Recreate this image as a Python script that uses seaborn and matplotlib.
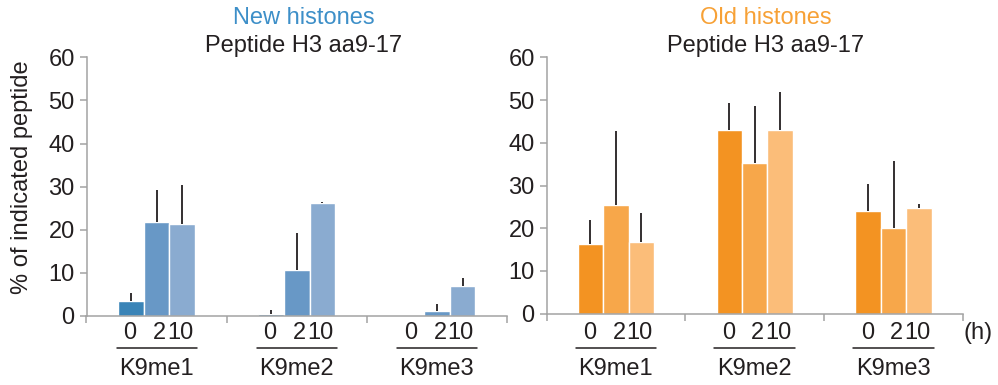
import numpy as np
import pandas as pd
import matplotlib
matplotlib.use("Agg")
import matplotlib.pyplot as plt
import matplotlib.transforms as mtransforms
from matplotlib.lines import Line2D
import seaborn as sns

# --- data -------------------------------------------------------------
marks = ["K9me1", "K9me2", "K9me3"]
times = ["0", "2", "10"]

new_0h = [3.5, 0.4, 0.0]
new_0h_sd = [1.9, 0.9, np.nan]
new_2h = [21.7, 10.6, 1.1]
new_2h_sd = [7.5, 8.6, 1.6]
new_10h = [21.4, 26.1, 6.9]
new_10h_sd = [8.9, 0.4, 1.8]

old_0h = [16.3, 43.0, 24.1]
old_0h_sd = [5.6, 6.2, 6.3]
old_2h = [25.5, 35.3, 20.1]
old_2h_sd = [17.3, 13.3, 15.6]
old_10h = [16.7, 43.0, 24.8]
old_10h_sd = [6.9, 8.9, 0.8]

new_colors = ["#3a84b7", "#6898c6", "#8aabd0"]
old_colors = ["#f39322", "#f7a74a", "#fbbd79"]

TEXT = "#231f20"
GREY = "#a3a3a3"
FS = 17


def long_table(series, sds):
    rows = []
    for t, vals, errs in zip(times, series, sds):
        for m, v, e in zip(marks, vals, errs):
            rows.append({"mark": m, "time": t, "value": v, "sd": e})
    return pd.DataFrame(rows)


df_new = long_table([new_0h, new_2h, new_10h], [new_0h_sd, new_2h_sd, new_10h_sd])
df_old = long_table([old_0h, old_2h, old_10h], [old_0h_sd, old_2h_sd, old_10h_sd])

sns.set_style("ticks")
plt.rcParams["font.family"] = ["Liberation Sans", "DejaVu Sans"]

W, H = 998, 385
fig = plt.figure(figsize=(W / 100, H / 100), dpi=100)


def px_axes(x0, x1, y_top, y_bottom):
    return fig.add_axes([x0 / W, 1 - y_bottom / H, (x1 - x0) / W, (y_bottom - y_top) / H])


ax_new = px_axes(86.5, 507, 57.3, 316)
ax_old = px_axes(546.5, 963, 57.3, 313.7)


def draw_panel(ax, df, colors, heading, heading_color, title_x, label_offsets, ul_half):
    sns.barplot(data=df, x="mark", y="value", hue="time", order=marks,
                hue_order=times, palette=colors, width=0.55, saturation=1,
                errorbar=None, edgecolor="white", linewidth=1.0,
                legend=False, ax=ax)

    # one-sided SD bars on top of every column
    for t, cont in zip(times, ax.containers):
        sub = df[df["time"] == t].set_index("mark").loc[marks]
        for patch, sd in zip(cont.patches, sub["sd"].values):
            if np.isnan(sd):
                continue
            xc = patch.get_x() + patch.get_width() / 2
            top = patch.get_height()
            ax.vlines(xc, top, top + sd, color=TEXT, lw=1.3, zorder=3)

    ax.set_xlim(-0.5, 2.5)
    ax.set_ylim(0, 60)
    ax.set_yticks(range(0, 61, 10))
    ax.set_xticks([-0.5, 0.5, 1.5, 2.5], labels=[""] * 4)
    ax.set_xlabel("")
    ax.set_ylabel("")
    for s in ("top", "right"):
        ax.spines[s].set_visible(False)
    for s in ("left", "bottom"):
        ax.spines[s].set_color(GREY)
        ax.spines[s].set_linewidth(1.1)
    ax.tick_params(axis="both", colors=GREY, width=1.1, length=5,
                   labelsize=FS, labelcolor=TEXT, pad=3.5)

    # time labels, underline and modification label under each group
    tr = mtransforms.blended_transform_factory(ax.transData, fig.transFigure)
    for gi, m in enumerate(marks):
        for t, off in zip(times, label_offsets):
            ax.text(gi + off, 1 - 339 / H, t, transform=tr, ha="center",
                    va="baseline", fontsize=FS, color=TEXT)
        ax.add_line(Line2D([gi - ul_half, gi + ul_half], [1 - 348.3 / H] * 2,
                           transform=tr, color=TEXT, lw=1.1, clip_on=False))
        ax.text(gi, 1 - 375 / H, m, transform=tr, ha="center", va="baseline",
                fontsize=FS, color=TEXT)

    fig.text(title_x / W, 1 - 24 / H, heading, ha="center", va="baseline",
             fontsize=FS, color=heading_color)
    fig.text(title_x / W, 1 - 51.7 / H, "Peptide H3 aa9-17", ha="center",
             va="baseline", fontsize=FS, color=TEXT)


draw_panel(ax_new, df_new, new_colors, "New histones", "#3d8fc8", 303.5,
           [-0.19, 0.022, 0.17], 0.285)
draw_panel(ax_old, df_old, old_colors, "Old histones", "#f7a136", 765.5,
           [-0.19, 0.022, 0.17], 0.29)

fig.text(978 / W, 1 - 339 / H, "(h)", ha="center", va="baseline",
         fontsize=FS, color=TEXT)
fig.text(22 / W, 1 - 177.5 / H, "% of indicated peptide", rotation=90,
         ha="center", va="center", fontsize=FS, color=TEXT)

fig.savefig("out.png", dpi=100)
